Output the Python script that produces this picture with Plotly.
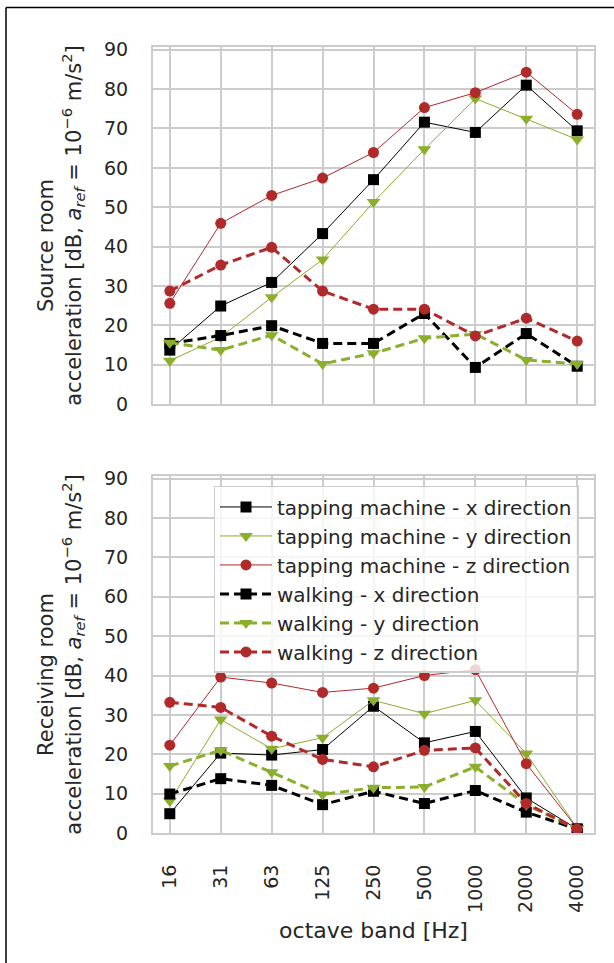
import plotly.graph_objects as go

bands = ["16", "31", "63", "125", "250", "500", "1000", "2000", "4000"]

# Source room (top panel)
src_tap_x = [13.7, 24.9, 30.9, 43.3, 57.0, 71.6, 69.0, 81.0, 69.4]
src_tap_y = [11.0, 17.0, 27.1, 36.7, 51.3, 64.7, 77.6, 72.5, 67.2]
src_tap_z = [25.6, 45.9, 53.0, 57.4, 63.9, 75.3, 79.1, 84.3, 73.6]
src_walk_x = [15.4, 17.4, 19.9, 15.4, 15.4, 23.0, 9.3, 17.9, 9.6]
src_walk_y = [15.6, 13.7, 17.5, 10.2, 12.9, 16.7, 17.8, 11.2, 10.2]
src_walk_z = [28.7, 35.3, 39.8, 28.7, 24.1, 24.1, 17.3, 21.8, 16.0]

# Receiving room (bottom panel)
rec_tap_x = [4.9, 20.3, 19.8, 21.2, 32.2, 22.9, 25.8, 8.9, 1.0]
rec_tap_y = [8.1, 28.8, 21.4, 24.2, 33.7, 30.3, 33.7, 20.2, 1.2]
rec_tap_z = [22.3, 39.6, 38.1, 35.7, 36.8, 40.0, 41.5, 17.6, 1.2]
rec_walk_x = [9.9, 13.8, 12.1, 7.2, 10.6, 7.5, 10.8, 5.3, 1.0]
rec_walk_y = [17.0, 21.0, 15.4, 9.8, 11.5, 11.7, 16.8, 7.2, 1.0]
rec_walk_z = [33.2, 31.9, 24.6, 18.7, 16.8, 21.0, 21.6, 7.5, 1.0]

names = ["tapping machine - x direction", "tapping machine - y direction",
         "tapping machine - z direction", "walking - x direction",
         "walking - y direction", "walking - z direction"]

BLACK = "#000000"
GREEN = "#8bae2d"
RED = "#b02a2a"
colors = [BLACK, GREEN, RED, BLACK, GREEN, RED]
symbols = ["square", "triangle-down", "circle", "square", "triangle-down", "circle"]
msizes = [11, 12, 11, 11, 12, 11]

fig = go.Figure()
panels = [
    ([src_tap_x, src_tap_y, src_tap_z, src_walk_x, src_walk_y, src_walk_z], "x", "y", False),
    ([rec_tap_x, rec_tap_y, rec_tap_z, rec_walk_x, rec_walk_y, rec_walk_z], "x2", "y2", True),
]
for series, xa, ya, show in panels:
    for i, vals in enumerate(series):
        dashed = i >= 3
        fig.add_trace(go.Scatter(
            x=bands, y=vals, name=names[i], mode="lines+markers",
            xaxis=xa, yaxis=ya, showlegend=show,
            line=dict(color=colors[i], width=3 if dashed else 1,
                      dash="9px,5px" if dashed else "solid"),
            marker=dict(symbol=symbols[i], size=msizes[i], color=colors[i],
                        line=dict(width=0)),
        ))

FONT = "DejaVu Sans"
TXT = "#262626"
GRID = "#cccccc"

common_x = dict(type="category", range=[-0.33, 8.33], showgrid=True,
                gridcolor=GRID, gridwidth=2, showline=True, linecolor=GRID,
                linewidth=2, mirror=True, ticks="", zeroline=False,
                tickfont=dict(family=FONT, size=19, color=TXT))
common_y = dict(range=[0, 90.7], dtick=10, tick0=0, showgrid=True,
                gridcolor=GRID, gridwidth=2, showline=True, linecolor=GRID,
                linewidth=2, mirror=True, ticks="", zeroline=False,
                ticklabelstandoff=19,
                tickfont=dict(family=FONT, size=19, color=TXT))

PAD1 = "&nbsp;" * 6
line2 = ("acceleration [dB, <i>a</i><sub><i>ref</i></sub>&nbsp;= "
         "10<sup>−6</sup>&nbsp;m/s<sup>2</sup>]")
ytitle_src = "Source room" + PAD1 + "<br>" + line2
ytitle_rec = "Receiving room" + PAD1 + "<br>" + line2

W, H = 614, 963
ML, MR, MT, MB = 153, 20, 46.5, 129.5
PH = H - MT - MB
top_dom = [(H - MB - 404) / PH, 1.0]
bot_dom = [0.0, (H - MB - 476) / PH]

fig.update_layout(
    width=W, height=H,
    margin=dict(l=ML, r=MR, t=MT, b=MB, autoexpand=False),
    paper_bgcolor="white", plot_bgcolor="white",
    font=dict(family=FONT, size=19, color=TXT),
    xaxis=dict(common_x, domain=[0, 1], anchor="y", showticklabels=False,
               matches="x2"),
    xaxis2=dict(common_x, domain=[0, 1], anchor="y2", tickangle=-90,
                ticklabelstandoff=22,
                title=dict(text="octave band [Hz]", standoff=11,
                           font=dict(family=FONT, size=22, color=TXT))),
    yaxis=dict(common_y, domain=top_dom, anchor="x",
               title=dict(text=ytitle_src, standoff=17,
                          font=dict(family=FONT, size=21, color=TXT))),
    yaxis2=dict(common_y, domain=bot_dom, anchor="x2",
                title=dict(text=ytitle_rec, standoff=17,
                           font=dict(family=FONT, size=21, color=TXT))),
    legend=dict(x=(213.5 - ML) / (W - ML - MR), y=(H - MB - 486) / PH,
                xanchor="left", yanchor="top", itemwidth=52,
                bgcolor="rgba(255,255,255,0.8)", bordercolor=GRID,
                borderwidth=1.5, font=dict(family=FONT, size=20, color=TXT),
                tracegroupgap=0),
    showlegend=True,
)

# outer figure frame (left and top edges visible)
px = lambda v: (v - ML) / (W - ML - MR)
py = lambda v: (H - MB - v) / PH
fig.add_shape(type="line", xref="paper", yref="paper",
              x0=px(6), x1=px(W + 10), y0=py(7), y1=py(7),
              line=dict(color="black", width=1.5))
fig.add_shape(type="line", xref="paper", yref="paper",
              x0=px(6), x1=px(6), y0=py(7), y1=py(H + 10),
              line=dict(color="black", width=1.5))

fig.write_html("out.html", config={"displayModeBar": False},
               post_script="document.body.style.margin='0';")
